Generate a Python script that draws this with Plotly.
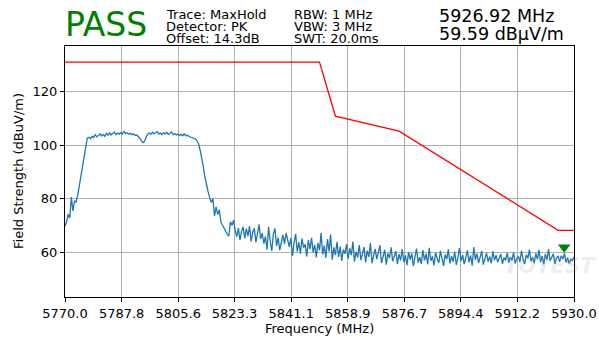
import plotly.graph_objects as go

# ---------------- data ----------------
f_start = 5770.0          # MHz, first trace point
f_step = 0.5              # MHz, trace point spacing

trace_level = [
    # 5770.0 - 5777.0 (rise)
    69.7, 71.4, 74.2, 72.8, 80.6, 75.4, 79.2, 78.7, 81.3, 84.8, 88.2, 91.6, 95.8, 99.9, 102.6,
    # 5777.5 - 5794.0 (flat top)
    102.9, 102.4, 103.3, 102.8, 103.9, 103.1, 103.6, 104.2, 103.4, 104.0, 103.3, 104.4,
    103.7, 104.6, 103.8, 104.3, 104.9, 103.9, 104.5, 104.1, 104.7, 104.0, 105.2, 104.3,
    104.6, 104.1, 104.4, 103.9, 104.2, 103.6, 103.8, 103.2, 102.6, 101.8,
    # 5794.5 - 5811.5
    100.9, 101.4, 103.0, 104.1, 104.5, 104.0, 104.8, 104.2, 104.6, 105.0, 104.1, 104.5,
    103.9, 104.6, 104.2, 104.8, 104.0, 104.4, 104.9, 103.9, 104.3, 103.8, 104.1, 103.6,
    104.0, 103.5, 104.2, 103.4, 103.7, 103.2, 103.0, 102.9, 102.6, 102.3, 101.6,
    # 5812.0 - 5822.5 (fall)
    100.4, 98.0, 95.2, 91.8, 88.0, 84.6, 82.5, 80.3, 78.6, 80.0, 73.6, 76.9, 74.1, 75.8,
    71.3, 70.2, 68.9, 67.6, 66.8, 66.0, 71.4, 70.1,
    # 5823.0 - 5832.0
    72.0, 68.2, 65.8, 69.0, 64.5, 67.8, 69.5, 65.2, 68.8, 66.0, 69.8, 64.0, 67.5, 68.9,
    63.8, 66.9, 70.4, 65.0, 67.2,
    # 5832.5 - 5841.0
    63.2, 65.9, 61.0, 69.5, 64.2, 60.5, 66.8, 68.9, 62.4, 65.5, 60.8, 64.0, 66.5, 63.1,
    67.2, 64.6, 62.0, 65.3,
    # 5841.5 - 5858.0
    58.6, 63.4, 66.9, 60.2, 63.8, 59.5, 65.1, 61.7, 63.0, 58.4, 64.6, 61.2, 65.4, 60.0,
    62.8, 58.1, 63.5, 60.7, 67.3, 59.2, 62.5, 57.9, 64.9, 60.3, 66.6, 57.2, 61.8, 59.0,
    63.9, 58.3, 62.1, 56.8, 61.0, 59.4,
    # 5858.5 - 5877.0
    63.0, 57.6, 61.5, 58.9, 64.0, 56.5, 60.2, 58.0, 62.7, 57.1, 59.8, 61.9, 56.2, 60.6,
    58.3, 63.4, 55.9, 59.1, 61.3, 57.4, 60.0, 62.6, 56.0, 58.7, 60.9, 55.4, 59.6, 57.8,
    61.8, 56.6, 58.5, 60.4, 55.6, 59.3, 57.0, 61.2, 56.3, 58.8,
    # 5877.5 - 5930.0
    55.2, 60.1, 57.3, 59.6, 54.8, 58.9, 61.4, 56.1, 58.2, 55.7,
    60.8, 57.0, 59.4, 55.5, 61.7, 56.8, 58.5, 55.1, 59.9, 57.6,
    56.0, 60.5, 58.1, 54.9, 59.2, 57.4, 61.1, 55.8, 58.6, 56.4,
    60.2, 55.3, 58.0, 61.6, 56.7, 59.0, 55.6, 57.9, 60.7, 56.2,
    58.8, 55.0, 61.9, 57.2, 59.5, 56.0, 58.3, 60.4, 55.4, 57.7,
    59.7, 56.5, 58.4, 55.9, 60.3, 57.1, 58.9, 56.3, 57.5, 59.3,
    55.7, 58.0, 57.0, 59.8, 56.1, 58.2, 56.9, 60.0, 55.8, 57.6,
    58.5, 56.4, 60.6, 57.3, 55.6, 59.1, 57.8, 61.0, 56.6, 58.1,
    55.9, 59.6, 57.4, 60.9, 56.3, 58.6, 55.5, 59.4, 57.1, 61.2,
    56.8, 58.3, 59.4, 55.7, 57.9, 58.6, 56.4, 58.7, 57.5, 59.59,
    56.2, 58.0, 55.8, 57.4, 56.9, 58.3,
]
trace_freq = [f_start + f_step * i for i in range(len(trace_level))]

limit_freq = [5770.0, 5850.0, 5855.0, 5875.0, 5925.0, 5930.0]
limit_level = [131.0, 131.0, 110.8, 105.2, 68.2, 68.2]

peak_freq = 5926.92
peak_level = 59.59

x_range = [5770.0, 5930.0]
y_range = [43.3, 137.0]
x_tick_vals = [5770.0, 5787.8, 5805.6, 5823.3, 5841.1, 5858.9, 5876.7, 5894.4, 5912.2, 5930.0]
x_tick_text = ["5770.0", "5787.8", "5805.6", "5823.3", "5841.1", "5858.9", "5876.7", "5894.4", "5912.2", "5930.0"]
y_tick_vals = [60, 80, 100, 120]

verdict = "PASS"
info_col1 = ["Trace: MaxHold", "Detector: PK", "Offset: 14.3dB"]
info_col2 = ["RBW: 1 MHz", "VBW: 3 MHz", "SWT: 20.0ms"]
marker_text = ["5926.92 MHz", "59.59 dBµV/m"]

# ---------------- figure ----------------
W, H = 599, 337
ML, MR, MT, MB = 65, 25, 46, 40
PH = H - MT - MB
PW = W - ML - MR


def px_x(px):
    return (px - ML) / PW


def px_y(py):
    return (H - MB - py) / PH


FONT = "DejaVu Sans"
marker_offset = 2.3  # marker drawn just above the peak point

fig = go.Figure()
fig.add_trace(go.Scatter(x=trace_freq, y=trace_level, mode="lines",
                         line=dict(color="#1f77b4", width=1.3), hoverinfo="skip"))
fig.add_trace(go.Scatter(x=limit_freq, y=limit_level, mode="lines",
                         line=dict(color="red", width=1.3), hoverinfo="skip"))
fig.add_trace(go.Scatter(x=[peak_freq], y=[peak_level + marker_offset], mode="markers",
                         marker=dict(symbol="triangle-down", size=11, color="green",
                                     line=dict(width=0)), hoverinfo="skip"))

annotations = []


def add_text(text, x_px, y_px, size, color="black", anchor="left", angle=0):
    annotations.append(dict(text=text, x=px_x(x_px), y=px_y(y_px), xref="paper", yref="paper",
                            xanchor=anchor, yanchor="middle", showarrow=False, textangle=angle,
                            font=dict(family=FONT, size=size, color=color)))


add_text(verdict, 63, 24.5, 33, color="green")
rows_y = [14.2, 26.3, 38.3]
for i, t in enumerate(info_col1):
    add_text(t, 164, rows_y[i], 13)
for i, t in enumerate(info_col2):
    add_text(t, 292, rows_y[i], 13)
add_text(marker_text[0], 437, 15.8, 17.5)
add_text(marker_text[1], 437, 34.2, 17.5)

# axis titles
add_text("Frequency (MHz)", 319.5, 328.5, 13, anchor="center")
add_text("Field Strength (dBuV/m)", 18.5, 171.5, 13, anchor="center", angle=-90)

# faint watermark
annotations.append(dict(text="<b><i>TOTEST</i></b>", x=px_x(598), y=px_y(266), xref="paper", yref="paper",
                        xanchor="right", yanchor="middle", showarrow=False,
                        font=dict(family=FONT, size=21, color="rgba(150,150,150,0.18)")))

fig.update_layout(
    width=W, height=H,
    margin=dict(l=ML, r=MR, t=MT, b=MB, pad=0, autoexpand=False),
    paper_bgcolor="white", plot_bgcolor="white",
    showlegend=False,
    font=dict(family=FONT, size=13, color="black"),
    annotations=annotations,
)
axis_common = dict(showline=True, linecolor="black", linewidth=1, mirror=True,
                   ticks="outside", ticklen=4, tickwidth=1, tickcolor="black",
                   showgrid=True, gridcolor="#b0b0b0", gridwidth=1, zeroline=False,
                   automargin=False,
                   tickfont=dict(family=FONT, size=13, color="black"))
fig.update_xaxes(range=x_range, tickvals=x_tick_vals, ticktext=x_tick_text, **axis_common)
fig.update_yaxes(range=y_range, tickvals=y_tick_vals, **axis_common)

fig.write_html("out.html", config={"displayModeBar": False},
               post_script="document.body.style.margin='0';document.body.style.overflow='hidden';")
